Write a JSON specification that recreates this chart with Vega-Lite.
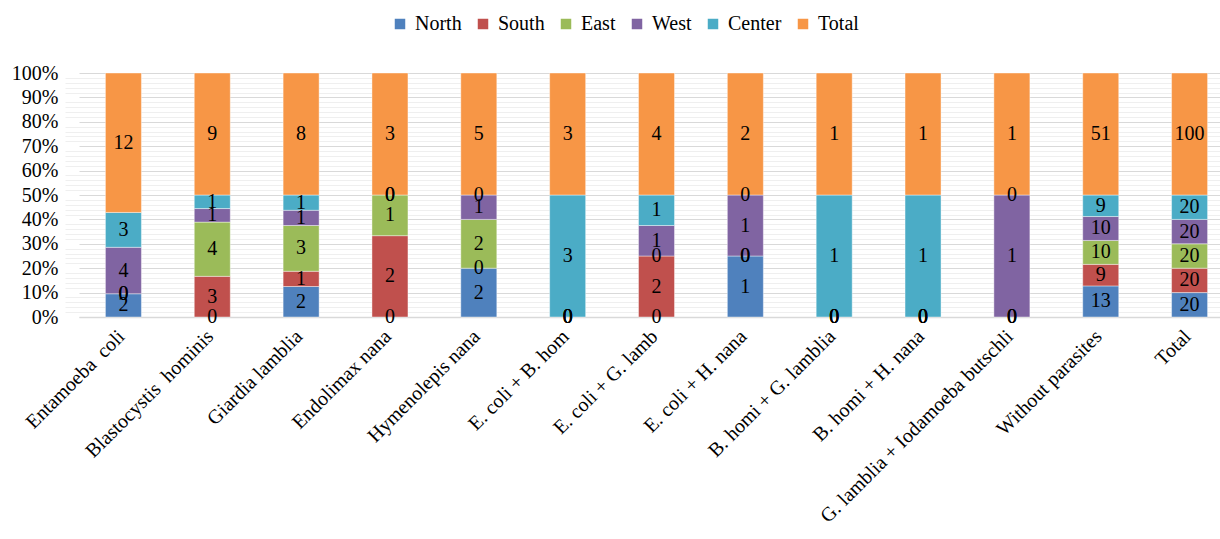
{
  "$schema": "https://vega.github.io/schema/vega-lite/v6.json",
  "autosize": "none",
  "width": 1141,
  "height": 244,
  "padding": {"left": 79, "top": 73, "right": 0, "bottom": 222},
  "background": "white",
  "config": {
    "view": {"stroke": null},
    "font": "Liberation Serif",
    "text": {"font": "Liberation Serif"}
  },
  "datasets": {
    "counts": [
      {"cat": "Entamoeba\u00a0 coli", "region": "North", "value": 2},
      {"cat": "Entamoeba\u00a0 coli", "region": "South", "value": 0},
      {"cat": "Entamoeba\u00a0 coli", "region": "East", "value": 0},
      {"cat": "Entamoeba\u00a0 coli", "region": "West", "value": 4},
      {"cat": "Entamoeba\u00a0 coli", "region": "Center", "value": 3},
      {"cat": "Entamoeba\u00a0 coli", "region": "Total", "value": 12},
      {"cat": "Blastocystis\u00a0 hominis", "region": "North", "value": 0},
      {"cat": "Blastocystis\u00a0 hominis", "region": "South", "value": 3},
      {"cat": "Blastocystis\u00a0 hominis", "region": "East", "value": 4},
      {"cat": "Blastocystis\u00a0 hominis", "region": "West", "value": 1},
      {"cat": "Blastocystis\u00a0 hominis", "region": "Center", "value": 1},
      {"cat": "Blastocystis\u00a0 hominis", "region": "Total", "value": 9},
      {"cat": "Giardia lamblia", "region": "North", "value": 2},
      {"cat": "Giardia lamblia", "region": "South", "value": 1},
      {"cat": "Giardia lamblia", "region": "East", "value": 3},
      {"cat": "Giardia lamblia", "region": "West", "value": 1},
      {"cat": "Giardia lamblia", "region": "Center", "value": 1},
      {"cat": "Giardia lamblia", "region": "Total", "value": 8},
      {"cat": "Endolimax nana", "region": "North", "value": 0},
      {"cat": "Endolimax nana", "region": "South", "value": 2},
      {"cat": "Endolimax nana", "region": "East", "value": 1},
      {"cat": "Endolimax nana", "region": "West", "value": 0},
      {"cat": "Endolimax nana", "region": "Center", "value": 0},
      {"cat": "Endolimax nana", "region": "Total", "value": 3},
      {"cat": "Hymenolepis nana", "region": "North", "value": 2},
      {"cat": "Hymenolepis nana", "region": "South", "value": 0},
      {"cat": "Hymenolepis nana", "region": "East", "value": 2},
      {"cat": "Hymenolepis nana", "region": "West", "value": 1},
      {"cat": "Hymenolepis nana", "region": "Center", "value": 0},
      {"cat": "Hymenolepis nana", "region": "Total", "value": 5},
      {"cat": "E. coli + B. hom", "region": "North", "value": 0},
      {"cat": "E. coli + B. hom", "region": "South", "value": 0},
      {"cat": "E. coli + B. hom", "region": "East", "value": 0},
      {"cat": "E. coli + B. hom", "region": "West", "value": 0},
      {"cat": "E. coli + B. hom", "region": "Center", "value": 3},
      {"cat": "E. coli + B. hom", "region": "Total", "value": 3},
      {"cat": "E. coli + G. lamb", "region": "North", "value": 0},
      {"cat": "E. coli + G. lamb", "region": "South", "value": 2},
      {"cat": "E. coli + G. lamb", "region": "East", "value": 0},
      {"cat": "E. coli + G. lamb", "region": "West", "value": 1},
      {"cat": "E. coli + G. lamb", "region": "Center", "value": 1},
      {"cat": "E. coli + G. lamb", "region": "Total", "value": 4},
      {"cat": "E. coli + H. nana", "region": "North", "value": 1},
      {"cat": "E. coli + H. nana", "region": "South", "value": 0},
      {"cat": "E. coli + H. nana", "region": "East", "value": 0},
      {"cat": "E. coli + H. nana", "region": "West", "value": 1},
      {"cat": "E. coli + H. nana", "region": "Center", "value": 0},
      {"cat": "E. coli + H. nana", "region": "Total", "value": 2},
      {"cat": "B. homi + G. lamblia", "region": "North", "value": 0},
      {"cat": "B. homi + G. lamblia", "region": "South", "value": 0},
      {"cat": "B. homi + G. lamblia", "region": "East", "value": 0},
      {"cat": "B. homi + G. lamblia", "region": "West", "value": 0},
      {"cat": "B. homi + G. lamblia", "region": "Center", "value": 1},
      {"cat": "B. homi + G. lamblia", "region": "Total", "value": 1},
      {"cat": "B. homi + H. nana", "region": "North", "value": 0},
      {"cat": "B. homi + H. nana", "region": "South", "value": 0},
      {"cat": "B. homi + H. nana", "region": "East", "value": 0},
      {"cat": "B. homi + H. nana", "region": "West", "value": 0},
      {"cat": "B. homi + H. nana", "region": "Center", "value": 1},
      {"cat": "B. homi + H. nana", "region": "Total", "value": 1},
      {"cat": "G. lamblia + Iodamoeba butschli", "region": "North", "value": 0},
      {"cat": "G. lamblia + Iodamoeba butschli", "region": "South", "value": 0},
      {"cat": "G. lamblia + Iodamoeba butschli", "region": "East", "value": 0},
      {"cat": "G. lamblia + Iodamoeba butschli", "region": "West", "value": 1},
      {"cat": "G. lamblia + Iodamoeba butschli", "region": "Center", "value": 0},
      {"cat": "G. lamblia + Iodamoeba butschli", "region": "Total", "value": 1},
      {"cat": "Without parasites", "region": "North", "value": 13},
      {"cat": "Without parasites", "region": "South", "value": 9},
      {"cat": "Without parasites", "region": "East", "value": 10},
      {"cat": "Without parasites", "region": "West", "value": 10},
      {"cat": "Without parasites", "region": "Center", "value": 9},
      {"cat": "Without parasites", "region": "Total", "value": 51},
      {"cat": "Total", "region": "North", "value": 20},
      {"cat": "Total", "region": "South", "value": 20},
      {"cat": "Total", "region": "East", "value": 20},
      {"cat": "Total", "region": "West", "value": 20},
      {"cat": "Total", "region": "Center", "value": 20},
      {"cat": "Total", "region": "Total", "value": 100}
    ]
  },
  "data": {"name": "counts"},
  "transform": [
    {"calculate": "indexof(['North','South','East','West','Center','Total'], datum.region)", "as": "ord"},
    {"stack": "value", "groupby": ["cat"], "sort": [{"field": "ord", "order": "ascending"}], "offset": "normalize", "as": ["y0", "y1"]},
    {"calculate": "(datum.y0 + datum.y1) / 2", "as": "ymid"}
  ],
  "encoding": {
    "x": {
      "field": "cat",
      "type": "nominal",
      "sort": null,
      "scale": {"paddingInner": 0, "paddingOuter": 0, "range": [0, 1155]},
      "axis": {
        "title": null,
        "labelAngle": -45,
        "labelAlign": "right",
        "labelBaseline": "top",
        "labelFont": "Liberation Serif",
        "labelFontSize": 20,
        "labelColor": "#000000",
        "labelPadding": 9,
        "labelOffset": -9,
        "labelLimit": 400,
        "ticks": false,
        "domainColor": "#d9d9d9",
        "domainWidth": 1.5,
        "grid": false
      }
    }
  },
  "layer": [
    {
      "transform": [{"filter": "datum.value > 0"}],
      "mark": {"type": "bar", "width": 36, "stroke": "#ffffff", "strokeWidth": 0.6, "strokeOpacity": 0.7},
      "encoding": {
        "y": {
          "field": "y0",
          "type": "quantitative",
          "scale": {"domain": [0, 1], "nice": false},
          "axis": {
            "title": null,
            "format": "%",
            "values": [0, 0.1, 0.2, 0.3, 0.4, 0.5, 0.6, 0.7, 0.8, 0.9, 1],
            "labelFont": "Liberation Serif",
            "labelFontSize": 20,
            "labelColor": "#000000",
            "labelPadding": 21,
            "ticks": false,
            "domain": false,
            "grid": true,
            "gridColor": "#d9d9d9",
            "gridWidth": 1.2
          }
        },
        "y2": {"field": "y1"},
        "color": {
          "field": "region",
          "type": "nominal",
          "scale": {
            "domain": ["North", "South", "East", "West", "Center", "Total"],
            "range": ["#4F81BD", "#C0504D", "#9BBB59", "#8064A2", "#4BACC6", "#F79646"]
          },
          "legend": {
            "title": null,
            "orient": "none",
            "legendX": 311,
            "legendY": -59,
            "direction": "horizontal",
            "symbolType": "square",
            "symbolSize": 110,
            "symbolStrokeWidth": 0,
            "labelFont": "Liberation Serif",
            "labelFontSize": 20,
            "labelColor": "#000000",
            "labelOffset": 5,
            "columnPadding": 11
          }
        }
      }
    },
    {
      "mark": {"type": "text", "font": "Liberation Serif", "fontSize": 20, "color": "#000000", "baseline": "middle"},
      "encoding": {
        "y": {
          "field": "ymid",
          "type": "quantitative",
          "scale": {"domain": [0, 1], "nice": false},
          "axis": {
            "orient": "right",
            "title": null,
            "labels": false,
            "ticks": false,
            "domain": false,
            "grid": true,
            "gridColor": "#efefef",
            "gridWidth": 1,
            "values": [0.02, 0.04, 0.06, 0.08, 0.12, 0.14, 0.16, 0.18, 0.22, 0.24, 0.26, 0.28, 0.32, 0.34, 0.36, 0.38, 0.42, 0.44, 0.46, 0.48, 0.52, 0.54, 0.56, 0.58, 0.62, 0.64, 0.66, 0.68, 0.72, 0.74, 0.76, 0.78, 0.82, 0.84, 0.86, 0.88, 0.92, 0.94, 0.96, 0.98]
          }
        },
        "text": {"field": "value", "type": "quantitative"}
      }
    }
  ],
  "resolve": {"axis": {"y": "independent"}}
}
